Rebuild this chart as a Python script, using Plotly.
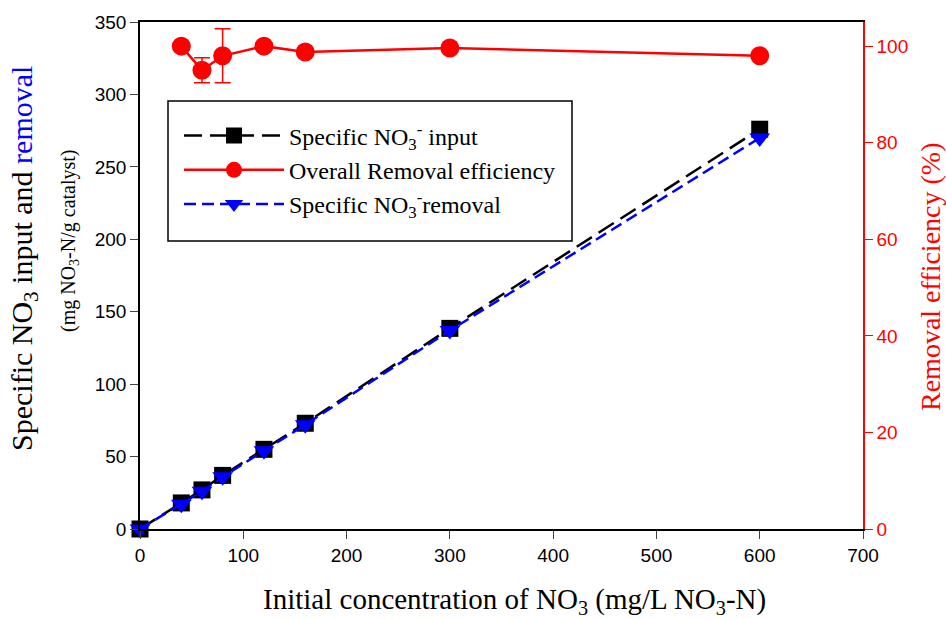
import plotly.graph_objects as go

conc = [0, 40, 60, 80, 120, 160, 300, 600]
input_spec = [0, 18, 27, 37, 55, 73, 138.5, 276]
input_err = [0, 0, 5, 0, 0, 0, 0, 0]
removal_spec = [0, 17, 26, 36, 54, 72, 137, 270]
eff_x = [40, 60, 80, 120, 160, 300, 600]
eff = [100, 95, 98, 100, 98.8, 99.6, 98]
eff_err = [0, 2.6, 5.6, 0, 0, 0, 0]

x_ticks = [0, 100, 200, 300, 400, 500, 600, 700]
y_ticks = [0, 50, 100, 150, 200, 250, 300, 350]
y2_ticks = [0, 20, 40, 60, 80, 100]

serif = "Liberation Serif"
sans = "Liberation Sans"

# plot area in page pixels
PL, PR, PT, PB = 140, 863, 22, 529
W, H = 946, 619


def px(xp):
    return (xp - PL) / (PR - PL)


def py(yp):
    return (PB - yp) / (PB - PT)


fig = go.Figure()
fig.add_trace(go.Scatter(
    x=conc, y=input_spec, name="Specific NO<sub>3</sub><sup>-</sup> input",
    mode="lines+markers",
    line=dict(color="black", width=2.5, dash="18px,8px"),
    marker=dict(symbol="square", size=17, color="black"),
    error_y=dict(type="data", array=input_err, color="black", width=6, thickness=1.2),
    cliponaxis=False,
))
fig.add_trace(go.Scatter(
    x=eff_x, y=eff, name="Overall Removal efficiency", yaxis="y2",
    mode="lines+markers",
    line=dict(color="red", width=2.5),
    marker=dict(symbol="circle", size=19, color="red"),
    error_y=dict(type="data", array=eff_err, color="red", width=8, thickness=1.5),
    cliponaxis=False,
))
fig.add_trace(go.Scatter(
    x=conc, y=removal_spec, name="Specific NO<sub>3</sub><sup>-</sup>removal",
    mode="lines+markers",
    line=dict(color="blue", width=2.5, dash="12px,6px"),
    marker=dict(symbol="triangle-down", size=18, color="blue"),
    cliponaxis=False,
))

fig.update_layout(
    width=W, height=H,
    margin=dict(l=PL, r=W - PR, t=PT, b=H - PB, autoexpand=False),
    plot_bgcolor="white", paper_bgcolor="white",
    showlegend=True,
    legend=dict(
        x=px(179), y=py(170), xanchor="left", yanchor="middle",
        borderwidth=0,
        font=dict(family=serif, size=24, color="black"),
        itemwidth=100, traceorder="normal",
        bgcolor="rgba(0,0,0,0)",
    ),
    xaxis=dict(
        range=[0, 700], tickvals=x_ticks, ticks="outside", ticklen=8,
        showgrid=False, zeroline=False, showline=True, linecolor="black", linewidth=1.5,
        mirror=True, automargin=False,
        tickfont=dict(family=sans, size=19, color="black"),
    ),
    yaxis=dict(
        range=[0, 350], tickvals=y_ticks, ticks="outside", ticklen=8,
        showgrid=False, zeroline=False, showline=True, linecolor="black", linewidth=1.5,
        automargin=False,
        tickfont=dict(family=sans, size=19, color="black"),
    ),
    yaxis2=dict(
        range=[0, 105], tickvals=y2_ticks, ticks="outside", ticklen=8,
        overlaying="y", side="right", automargin=False,
        showgrid=False, zeroline=False, showline=True, linecolor="red", linewidth=1.5,
        tickcolor="red",
        tickfont=dict(family=sans, size=19, color="red"),
    ),
    shapes=[
        dict(type="rect", xref="paper", yref="paper",
             x0=px(168), x1=px(572), y0=py(241), y1=py(101),
             line=dict(color="black", width=1.5), fillcolor="rgba(0,0,0,0)", layer="below"),
    ],
    annotations=[
        dict(text="Initial concentration of NO<sub>3</sub> (mg/L NO<sub>3</sub>-N)",
             xref="paper", yref="paper", x=px(514), y=py(601),
             xanchor="center", yanchor="middle", showarrow=False,
             font=dict(family=serif, size=29, color="black")),
        dict(text="Specific NO<sub>3</sub> input and <span style='color:blue'>removal</span>",
             xref="paper", yref="paper", x=px(24), y=py(259),
             xanchor="center", yanchor="middle", textangle=-90, showarrow=False,
             font=dict(family=serif, size=30, color="black")),
        dict(text="(mg NO<sub>3</sub>-N/g catalyst)",
             xref="paper", yref="paper", x=px(69), y=py(241),
             xanchor="center", yanchor="middle", textangle=-90, showarrow=False,
             font=dict(family=serif, size=20, color="black")),
        dict(text="Removal efficiency (%)",
             xref="paper", yref="paper", x=px(930), y=py(277),
             xanchor="center", yanchor="middle", textangle=-90, showarrow=False,
             font=dict(family=serif, size=28, color="red")),
    ],
)

fig.write_html(
    "out.html",
    config={"displayModeBar": False},
    post_script="document.body.style.margin='0px';document.body.style.overflow='hidden';",
)
